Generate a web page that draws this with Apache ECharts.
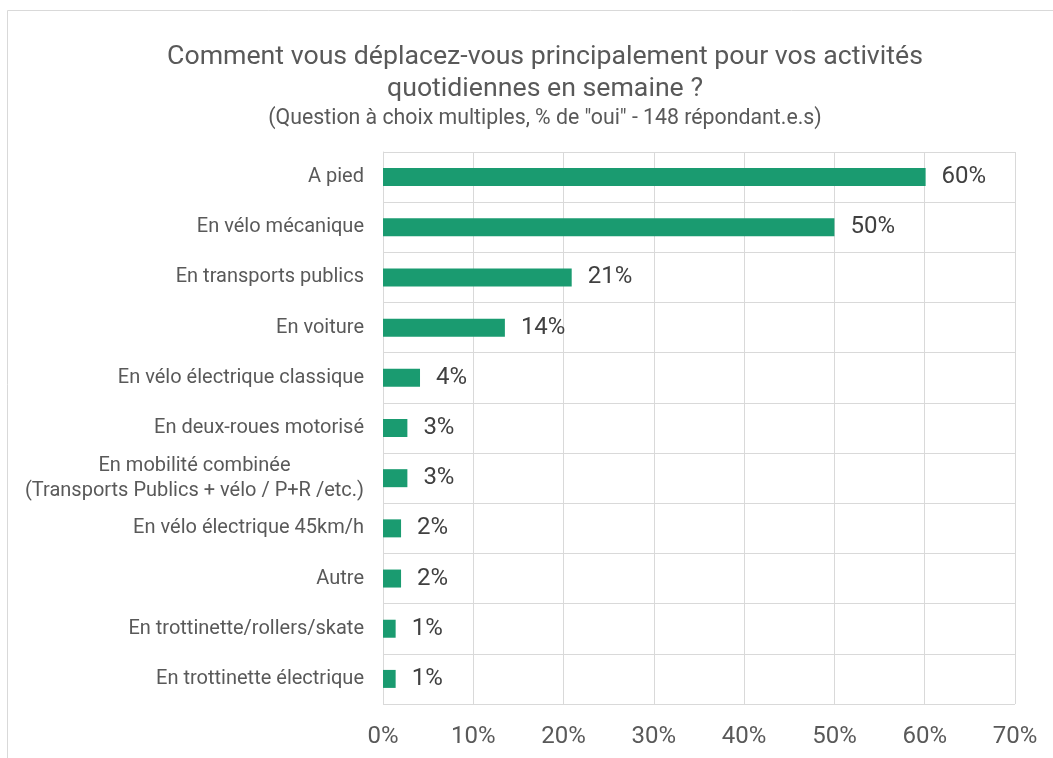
<!DOCTYPE html>
<html>
<head>
<meta charset="utf-8">
<title>Déplacements en semaine</title>
<script src="https://cdn.jsdelivr.net/npm/echarts@6/dist/echarts.min.js"></script>
<style>
  html, body { margin: 0; padding: 0; background: #fff; }
  #chart { width: 1053px; height: 758px; }
</style>
</head>
<body>
<div id="chart"></div>
<script>
// catégories, du haut vers le bas
const categories = [
  'A pied',
  'En vélo mécanique',
  'En transports publics',
  'En voiture',
  'En vélo électrique classique',
  'En deux-roues motorisé',
  'En mobilité combinée\n(Transports Publics + vélo / P+R /etc.)',
  'En vélo électrique 45km/h',
  'Autre',
  'En trottinette/rollers/skate',
  'En trottinette électrique'
];
// % de "oui" (148 répondant.e.s)
const shares = [60.1, 50.0, 20.9, 13.5, 4.1, 2.7, 2.7, 2.0, 2.0, 1.4, 1.4];
const xTicks = [0, 10, 20, 30, 40, 50, 60, 70];

const chart = echarts.init(document.getElementById('chart'));
chart.setOption({
  animation: false,
  textStyle: { fontFamily: 'Roboto' },
  title: [{
    text: 'Comment vous déplacez-vous principalement pour vos activités\nquotidiennes en semaine ?',
    left: 540, top: 36, textAlign: 'center',
    textStyle: { fontSize: 26.7, fontWeight: 'normal', color: '#595959', lineHeight: 32 }
  }, {
    text: '(Question à choix multiples, % de "oui" - 148 répondant.e.s)',
    left: 540, top: 103, textAlign: 'center',
    textStyle: { fontSize: 21.3, fontWeight: 'normal', color: '#595959' }
  }],
  graphic: [{
    type: 'polyline',
    shape: { points: [[7.5, 758], [7.5, 10.5], [1053, 10.5]] },
    style: { stroke: '#d9d9d9', fill: null, lineWidth: 1 }
  }],
  grid: { left: 383, right: 38, top: 152, bottom: 54 },
  xAxis: {
    type: 'value', min: 0, max: 70, interval: 10,
    axisLine: { show: false }, axisTick: { show: false },
    splitLine: { lineStyle: { color: '#d9d9d9', width: 1 } },
    axisLabel: {
      fontSize: 24, color: '#595959', margin: 21,
      formatter: v => xTicks.includes(v) ? v + '%' : ''
    }
  },
  yAxis: {
    type: 'category', inverse: true, data: categories,
    axisLine: { lineStyle: { color: '#d9d9d9' } },
    axisTick: { show: false },
    splitLine: { show: true, lineStyle: { color: '#d9d9d9', width: 1 } },
    axisLabel: {
      margin: 19, align: 'right',
      // lignes centrées entre elles, bloc aligné à droite
      formatter: v => v.split('\n').map(s => '{c|' + s + '}').join('\n'),
      rich: { c: { fontSize: 20, color: '#595959', lineHeight: 25, align: 'center' } }
    }
  },
  series: [{
    type: 'bar', data: shares, barWidth: 18,
    itemStyle: { color: '#1a9b70' },
    label: {
      show: true, position: 'right', distance: 16,
      fontSize: 24, color: '#404040',
      formatter: p => Math.round(p.value) + '%'
    }
  }]
});
</script>
</body>
</html>
